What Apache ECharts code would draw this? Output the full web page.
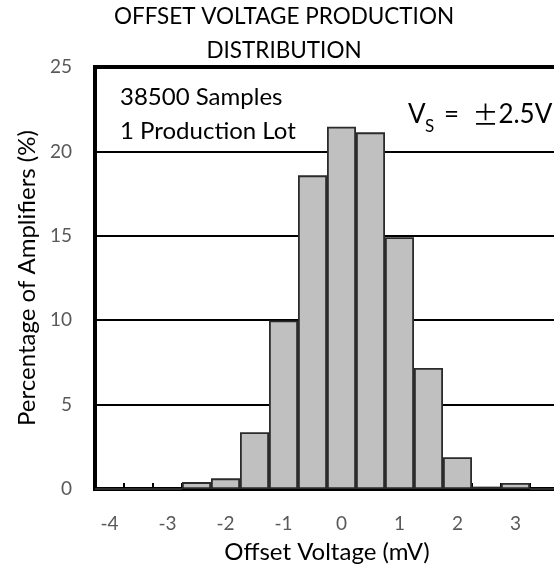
<!DOCTYPE html>
<html><head><meta charset="utf-8">
<script src="https://cdn.jsdelivr.net/npm/echarts@6/dist/echarts.min.js"></script>
<style>html,body{margin:0;padding:0;background:#fff}#c{width:554px;height:575px}</style>
</head><body><div id="c"></div>
<script>
const categories = ['-4','-3.5','-3','-2.5','-2','-1.5','-1','-0.5','0','0.5','1','1.5','2','2.5','3','3.5'];
const percentages = [0,0,0,0.41,0.63,3.36,9.98,18.58,21.46,21.13,14.92,7.17,1.88,0.14,0.36,0];
const yTicks = {min:0,max:25,interval:5};
const FONT = 'Lato';
const plain = {fontFamily:FONT,fontWeight:'normal',color:'#000'};
const chart = echarts.init(document.getElementById('c'));
chart.setOption({
  animation:false,
  backgroundColor:'#fff',
  textStyle:{fontFamily:FONT},
  title:[
    {text:'OFFSET VOLTAGE PRODUCTION\nDISTRIBUTION',left:284,top:0,padding:0,textAlign:'center',
     textStyle:Object.assign({},plain,{fontSize:22.5,lineHeight:33.5,align:'center'})},
    {text:'38500 Samples\n1 Production Lot',left:120,top:81,padding:0,
     textStyle:Object.assign({},plain,{fontSize:24,lineHeight:33.5})},
    {text:'V',left:408,top:102,padding:0,
     textStyle:Object.assign({},plain,{fontSize:26,lineHeight:26})},
    {text:'S',left:425,top:118,padding:0,
     textStyle:Object.assign({},plain,{fontSize:17,lineHeight:17})},
    {text:'{a|=  }{p|±}{a|2.5V}',left:444,top:102,padding:0,
     textStyle:{rich:{a:Object.assign({},plain,{fontSize:26,lineHeight:26}),
                      p:{fontFamily:'Noto Sans CJK JP',fontWeight:'normal',color:'#000',fontSize:26,lineHeight:26}}}}
  ],
  grid:{left:95,right:-5,top:67,bottom:86,outerBoundsMode:'none',show:true,borderColor:'#000',borderWidth:4,backgroundColor:'transparent'},
  xAxis:{type:'category',data:categories,
    name:'Offset Voltage (mV)',nameLocation:'middle',nameGap:51,
    nameTextStyle:{fontFamily:FONT,fontSize:24,color:'#000'},
    axisLine:{lineStyle:{color:'#000',width:4}},
    axisTick:{show:true,inside:true,length:6,interval:0,lineStyle:{color:'#000',width:2}},
    axisLabel:{interval:1,fontFamily:FONT,fontSize:19,color:'#595959',margin:25}},
  yAxis:{type:'value',min:yTicks.min,max:yTicks.max,interval:yTicks.interval,
    name:'Percentage of Amplifiers (%)',nameLocation:'middle',nameGap:56,
    nameTextStyle:{fontFamily:FONT,fontSize:24,color:'#000'},
    axisLine:{show:true,lineStyle:{color:'#000',width:4}},
    axisTick:{show:false},
    splitLine:{lineStyle:{color:'#000',width:2}},
    axisLabel:{fontFamily:FONT,fontSize:19,color:'#595959',margin:23}},
  series:[{type:'bar',data:percentages,barCategoryGap:'0%',
    itemStyle:{color:'#c0c0c0',borderColor:'#2b2b2b',borderWidth:1.8}}]
});
</script></body></html>
